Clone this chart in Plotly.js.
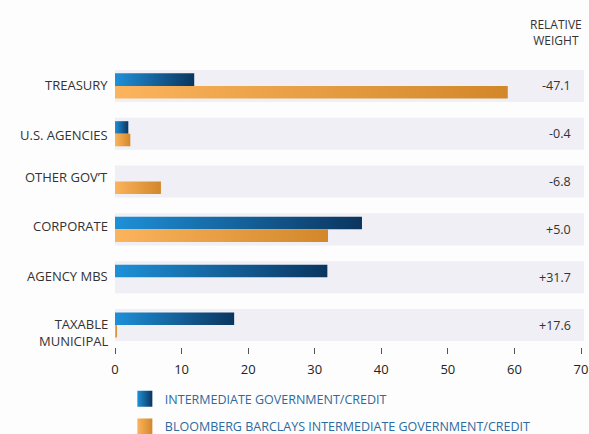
<!DOCTYPE html>
<html>
<head>
<meta charset="utf-8">
<script src="https://cdn.plot.ly/plotly-3.0.1.min.js"></script>
<style>
  html, body { margin: 0; padding: 0; background: #fdfdfd; }
  #chart { width: 589px; height: 434px; }
</style>
</head>
<body>
<div id="chart"></div>
<script>
// ---- data ----
const categories = ["TREASURY", "U.S. AGENCIES", "OTHER GOV\u2019T", "CORPORATE", "AGENCY MBS", "TAXABLE<br>MUNICIPAL"];
const fundValues = [11.9, 2.0, 0, 37.1, 31.9, 17.9];
const indexValues = [59.0, 2.3, 6.9, 32.0, 0, 0.3];
const relativeWeights = ["-47.1", "-0.4", "-6.8", "+5.0", "+31.7", "+17.6"];
const fundName = "INTERMEDIATE GOVERNMENT/CREDIT";
const indexName = "BLOOMBERG BARCLAYS INTERMEDIATE GOVERNMENT/CREDIT";
const xTicks = [0, 10, 20, 30, 40, 50, 60, 70];
const headerText = "RELATIVE<br>WEIGHT";

// label vertical nudges (style only)
const labelShift = [1, -1, 5, 3, 1, -7];

const FONT = "'Open Sans', 'Noto Sans', sans-serif";
const TEXT = "#333333";

const traces = [
  {
    type: "bar", orientation: "h", name: fundName,
    x: fundValues, y: categories,
    marker: { color: "#1a6aa6", line: { width: 0 } },
    legend: "legend", hoverinfo: "skip"
  },
  {
    type: "bar", orientation: "h", name: indexName,
    x: indexValues, y: categories,
    marker: { color: "#e89c3d", line: { width: 0 } },
    legend: "legend2", hoverinfo: "skip"
  }
];

const shapes = categories.map((c, i) => ({
  type: "rect", layer: "below", xref: "x", yref: "y",
  x0: 0, x1: 70.45, y0: i - 0.335, y1: i + 0.335,
  fillcolor: "#efeff5", line: { width: 0 }
}));

const annotations = relativeWeights.map((t, i) => ({
  text: t, xref: "paper", x: 0.976, xanchor: "right",
  yref: "y", y: categories[i], yanchor: "middle",
  showarrow: false, font: { family: FONT, size: 12.5, color: TEXT }
}));
categories.forEach((c, i) => {
  annotations.push({
    text: c, xref: "paper", x: 0, xanchor: "right", xshift: -5,
    yref: "y", y: c, yanchor: "middle", yshift: labelShift[i],
    align: "right", showarrow: false,
    font: { family: FONT, size: 13, color: TEXT }
  });
});
annotations.push({
  text: headerText, xref: "paper", x: 0.94, xanchor: "center",
  yref: "paper", y: 1.105, yanchor: "middle", showarrow: false,
  font: { family: FONT, size: 12, color: TEXT }
});

const layout = {
  width: 589, height: 434,
  paper_bgcolor: "#fdfdfd", plot_bgcolor: "rgba(0,0,0,0)",
  margin: { l: 115, r: 5, t: 62, b: 87, autoexpand: false },
  barmode: "group", bargap: 0.475, bargroupgap: 0,
  font: { family: FONT, size: 12, color: TEXT },
  xaxis: {
    range: [0, 70.45], tickvals: xTicks, ticktext: xTicks.map(String),
    ticks: "outside", ticklen: 6, tickwidth: 1, tickcolor: "#555555",
    showgrid: false, zeroline: false, showline: false,
    tickfont: { family: FONT, size: 13, color: "#222222" },
    ticklabelstandoff: 4,
    fixedrange: true
  },
  yaxis: {
    type: "category", categoryorder: "array", categoryarray: categories,
    range: [5.46, -0.5], showgrid: false, zeroline: false, showline: false,
    ticks: "", showticklabels: false,
    fixedrange: true
  },
  shapes: shapes,
  annotations: annotations,
  showlegend: true,
  legend: {
    x: 0.021, xanchor: "left", y: -0.1825, yanchor: "middle",
    bgcolor: "rgba(0,0,0,0)", font: { family: FONT, size: 12.5, color: "#2d6a9f" }
  },
  legend2: {
    x: 0.021, xanchor: "left", y: -0.2807, yanchor: "middle",
    bgcolor: "rgba(0,0,0,0)", font: { family: FONT, size: 12.5, color: "#2d6a9f" }
  }
};

function addGradients(gd) {
  const svgNS = "http://www.w3.org/2000/svg";
  const svg = gd.querySelector("svg.main-svg");
  let defs = svg.querySelector("defs");
  if (!defs) { defs = document.createElementNS(svgNS, "defs"); svg.insertBefore(defs, svg.firstChild); }
  function grad(id, c0, c1) {
    const g = document.createElementNS(svgNS, "linearGradient");
    g.setAttribute("id", id);
    g.setAttribute("x1", "0"); g.setAttribute("y1", "0");
    g.setAttribute("x2", "1"); g.setAttribute("y2", "0");
    [[0, c0], [1, c1]].forEach(([o, c]) => {
      const s = document.createElementNS(svgNS, "stop");
      s.setAttribute("offset", o); s.setAttribute("stop-color", c);
      g.appendChild(s);
    });
    defs.appendChild(g);
  }
  grad("gradBlue", "#1e90d8", "#0b355f");
  grad("gradOrange", "#fbb45d", "#d2872a");
  const fills = ["url(#gradBlue)", "url(#gradOrange)"];
  gd.querySelectorAll(".barlayer .trace").forEach((t, i) => {
    t.querySelectorAll("path").forEach(p => { p.style.fill = fills[i]; });
  });
  gd.querySelectorAll(".legendpoints path").forEach((p, i) => {
    p.setAttribute("d", "M7.5,8H-7.5V-8H7.5Z");
    p.style.fill = fills[i] || fills[0];
    p.style.stroke = "none";
  });
}

Plotly.newPlot("chart", traces, layout, { staticPlot: true, displayModeBar: false })
  .then(addGradients);
</script>
</body>
</html>
